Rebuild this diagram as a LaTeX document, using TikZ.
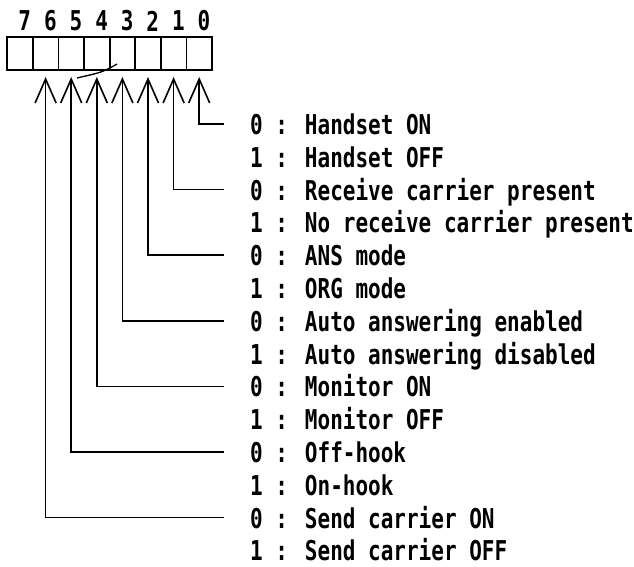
\documentclass[tikz,border=0pt]{standalone}
\usepackage{fontspec}
\usetikzlibrary{arrows.meta}
\newfontfamily\regfont{DejaVu Sans Mono}
\newcommand\talltext[1]{\scalebox{1}[1.3]{#1}}
\tikzset{
  cell/.style={draw, line width=1.8pt, minimum width=25.6pt, minimum height=33pt, inner sep=0pt, outer sep=0pt},
  dig/.style={inner sep=0pt, font=\fontsize{21}{21}\regfont\bfseries},
  lbl/.style={anchor=base west, inner sep=0pt, font=\fontsize{21}{21}\regfont\bfseries},
  conn/.style={line width=1.5pt, line join=miter, -{Straight Barb[length=24pt, width=21pt, line width=1.6pt]}},
}
\begin{document}
\begin{tikzpicture}[x=1pt, y=-1pt]
\useasboundingbox (0,0) rectangle (634,566);
% register cells
\foreach \i in {0,...,7} {
  \node[cell] (c\i) at ({199.2-25.6*\i},53.5) {};
  \node[dig] (d\i) at ({204-25.6*\i},21) {\talltext{\i}};
}
% break mark
\draw[line width=1.3pt] (77,78) .. controls (103,72) .. (117,64);
% labels
\node[lbl] (t0)  at (250,134.5) {\talltext{0 : Handset ON}};
\node[lbl] (t1)  at (250,167.3) {\talltext{1 : Handset OFF}};
\node[lbl] (t2)  at (250,200.1) {\talltext{0 : Receive carrier present}};
\node[lbl] (t3)  at (250,232.9) {\talltext{1 : No receive carrier present}};
\node[lbl] (t4)  at (250,265.7) {\talltext{0 : ANS mode}};
\node[lbl] (t5)  at (250,298.5) {\talltext{1 : ORG mode}};
\node[lbl] (t6)  at (250,331.3) {\talltext{0 : Auto answering enabled}};
\node[lbl] (t7)  at (250,364.1) {\talltext{1 : Auto answering disabled}};
\node[lbl] (t8)  at (250,396.9) {\talltext{0 : Monitor ON}};
\node[lbl] (t9)  at (250,429.7) {\talltext{1 : Monitor OFF}};
\node[lbl] (t10) at (250,462.5) {\talltext{0 : Off-hook}};
\node[lbl] (t11) at (250,495.3) {\talltext{1 : On-hook}};
\node[lbl] (t12) at (250,528.1) {\talltext{0 : Send carrier ON}};
\node[lbl] (t13) at (250,560.9) {\talltext{1 : Send carrier OFF}};
% connectors
\foreach \i in {0,...,6} {
  \coordinate (e\i) at (224,{124+65.6*\i});
  \draw[conn] (e\i) -| ([yshift=-7pt]c\i.south);
}
\end{tikzpicture}
\end{document}
